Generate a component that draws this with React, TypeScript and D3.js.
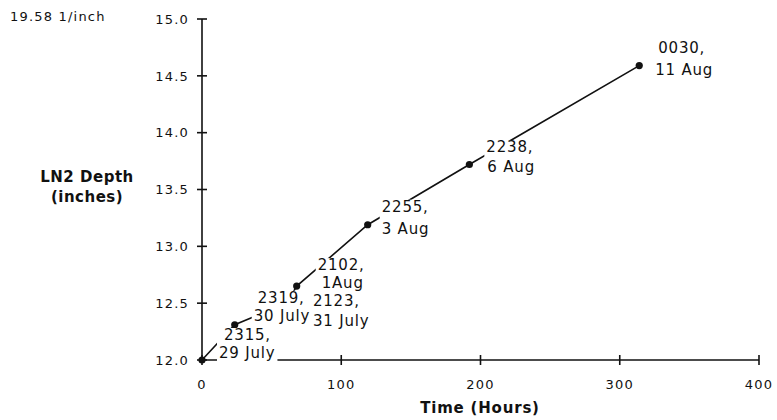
import React, { useEffect, useRef } from 'react';
import * as d3 from 'd3';

// LN2 depth readings
const hours = [0, 23.5, 61, 68, 119, 192, 314];
const depths = [12.0, 12.31, 12.5, 12.65, 13.19, 13.72, 14.59];
const clockLabels = ['2315,', '2319,', '2123,', '2102,', '2255,', '2238,', '0030,'];
const dateLabels = ['29 July', '30 July', '31 July', '1Aug', '3 Aug', '6 Aug', '11 Aug'];
const xTicks = [0, 100, 200, 300, 400];
const yTicks = [12.0, 12.5, 13.0, 13.5, 14.0, 14.5, 15.0];

// hand placed label offsets from each point: [dx1, dy1, dx2, dy2]
const labelOffsets = [
    [22, -20, 17, -2],
    [23, -22, 19, -4],
    [26, 3, 26, 23],
    [21, -16, 25, 2],
    [14, -13, 14, 9],
    [17, -12, 18, 8],
    [19, -13, 16, 9],
];
// later labels cover the earlier ones
const labelOrder = [1, 2, 3, 0, 4, 5, 6];

const W = 777;
const H = 420;
const ink = '#111';
const font = '"DejaVu Sans", Verdana, sans-serif';

const App = () => {
    const myRef = useRef<SVGSVGElement | null>(null);

    useEffect(() => {
        document.body.style.margin = '0';
        const svg = d3.select(myRef.current);
        svg.selectAll('*').remove();

        const x = d3.scaleLinear().domain([0, 400]).range([202, 759]);
        const y = d3.scaleLinear().domain([12, 15]).range([360, 19]);

        // corner note
        svg.append('text')
            .attr('x', 10).attr('y', 21)
            .style('font-family', font).style('font-size', '13px')
            .style('letter-spacing', '1.2px').attr('fill', ink)
            .text('19.58 1/inch');

        // y axis
        const axes = svg.append('g').attr('stroke', ink).attr('stroke-width', 1.6);
        axes.append('line')
            .attr('x1', x(0)).attr('x2', x(0))
            .attr('y1', y(15)).attr('y2', y(12));
        axes.selectAll('.yt').data(yTicks).enter().append('line')
            .attr('x1', x(0) - 5).attr('x2', x(0) + 5)
            .attr('y1', d => y(d)).attr('y2', d => y(d));
        svg.selectAll('.yl').data(yTicks).enter().append('text')
            .attr('x', 189).attr('y', d => y(d)).attr('dy', '0.36em')
            .attr('text-anchor', 'end')
            .style('font-family', font).style('font-size', '13px')
            .style('letter-spacing', '1.2px').attr('fill', ink)
            .text(d => d3.format('.1f')(d));

        // x axis
        axes.append('line')
            .attr('x1', x(0)).attr('x2', x(400))
            .attr('y1', y(12)).attr('y2', y(12));
        axes.selectAll('.xt').data(xTicks).enter().append('line')
            .attr('x1', d => x(d)).attr('x2', d => x(d))
            .attr('y1', y(12) - 5).attr('y2', y(12) + 5);
        svg.selectAll('.xl').data(xTicks).enter().append('text')
            .attr('x', d => x(d)).attr('y', 389)
            .attr('text-anchor', 'middle')
            .style('font-family', font).style('font-size', '13px')
            .style('letter-spacing', '1.2px').attr('fill', ink)
            .text(d => d);

        // axis titles
        svg.append('text')
            .attr('x', 480).attr('y', 413).attr('text-anchor', 'middle')
            .style('font-family', font).style('font-size', '15px').style('font-weight', 'bold')
            .style('letter-spacing', '0.8px').attr('fill', ink)
            .text('Time (Hours)');
        const yTitle = svg.append('text')
            .attr('text-anchor', 'middle')
            .style('font-family', font).style('font-size', '15px').style('font-weight', 'bold')
            .style('letter-spacing', '0.5px').attr('fill', ink);
        yTitle.append('tspan').attr('x', 87).attr('y', 182).text('LN2 Depth');
        yTitle.append('tspan').attr('x', 87).attr('y', 202).text('(inches)');

        // data line and points
        const pts = hours.map((h, i) => [x(h), y(depths[i])] as [number, number]);
        svg.append('path')
            .attr('d', d3.line()(pts))
            .attr('fill', 'none').attr('stroke', ink).attr('stroke-width', 1.6);
        svg.selectAll('.dot').data(pts).enter().append('circle')
            .attr('cx', d => d[0]).attr('cy', d => d[1]).attr('r', 3.6)
            .attr('fill', ink);

        // point labels with white backgrounds
        labelOrder.forEach(i => {
            const [px, py] = pts[i];
            const [dx1, dy1, dx2, dy2] = labelOffsets[i];
            const g = svg.append('g');
            const bg = g.append('rect').attr('fill', '#fff');
            const t1 = g.append('text')
                .attr('x', px + dx1).attr('y', py + dy1)
                .style('font-family', font).style('font-size', '15px')
                .style('letter-spacing', '0.8px').attr('fill', ink)
                .text(clockLabels[i]);
            const t2 = g.append('text')
                .attr('x', px + dx2).attr('y', py + dy2)
                .style('font-family', font).style('font-size', '15px')
                .style('letter-spacing', '0.8px').attr('fill', ink)
                .text(dateLabels[i]);
            const w1 = (t1.node() as SVGTextElement).getComputedTextLength();
            const w2 = (t2.node() as SVGTextElement).getComputedTextLength();
            const left = Math.min(px + dx1, px + dx2) - 2;
            const right = Math.max(px + dx1 + w1, px + dx2 + w2) + 2;
            const top = py + dy1 - 12;
            const bottom = py + dy2 + 5;
            bg.attr('x', left).attr('y', top)
                .attr('width', right - left).attr('height', bottom - top);
        });
    }, []);

    return <svg ref={myRef} width={W} height={H} style={{ display: 'block', background: '#fff' }} />;
};

export default App;
